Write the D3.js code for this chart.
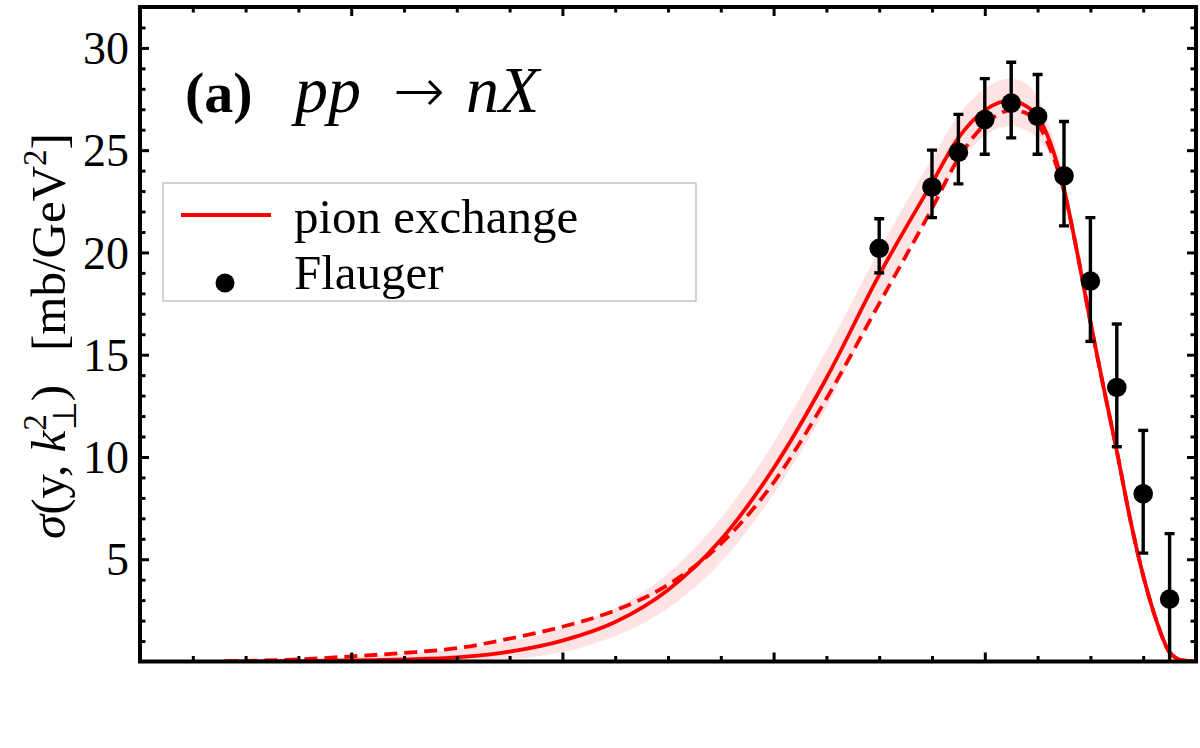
<!DOCTYPE html>
<html>
<head>
<meta charset="utf-8">
<script src="https://cdn.jsdelivr.net/npm/d3@7"></script>
<style>
  html, body { margin: 0; padding: 0; background: #fff; }
  svg { display: block; }
  text { font-family: "Liberation Serif", "Times New Roman", serif; }
</style>
</head>
<body>
<svg id="chart" width="1200" height="748"></svg>
<script>
// ---------------- data ----------------
const curveX = [0.08,0.10,0.15,0.20,0.25,0.30,0.35,0.40,0.45,0.50,0.55,0.60,0.65,0.70,0.75,0.775,0.80,0.825,0.8375,0.85,0.8625,0.875,0.8875,0.90,0.9125,0.925,0.9375,0.95,0.9625,0.975,0.9875,1.0];
const pionSolid = [0,0.005,0.02,0.05,0.1,0.2,0.48,1.02,1.93,3.5,5.95,9.45,13.85,18.9,23.4,25.6,26.95,27.45,27.2,26.65,25.3,23.1,20.0,16.6,13.4,10.3,7.0,4.2,2.0,0.45,0.05,0];
const pionDashed = [0,0.03,0.1,0.25,0.42,0.65,1.12,1.7,2.5,3.75,5.75,8.75,12.85,17.5,22.15,24.6,26.25,26.95,26.85,26.3,25.0,23.0,20.0,16.6,13.4,10.3,7.0,4.2,2.0,0.45,0.05,0];
const bandUpper = [0.02,0.05,0.12,0.22,0.38,0.6,0.98,1.6,2.6,4.3,7.0,10.7,15.2,20.1,24.6,26.7,28.0,28.5,28.3,27.6,26.0,23.6,20.3,16.8,13.55,10.4,7.1,4.3,2.05,0.5,0.08,0];
const bandLower = [0,0,0,0,0,0.02,0.12,0.45,1.25,2.6,4.85,8.2,12.4,17.6,22.1,24.3,25.7,26.2,26.0,25.6,24.6,22.6,19.7,16.4,13.25,10.2,6.9,4.1,1.95,0.4,0.03,0];

const flaugerX = [0.70,0.75,0.775,0.80,0.825,0.85,0.875,0.90,0.925,0.95,0.975];
const flaugerY = [20.2,23.2,24.9,26.5,27.3,26.65,23.75,18.6,13.4,8.2,3.05];
const flaugerHi = [21.65,25.0,26.75,28.5,29.3,28.7,26.4,21.7,16.5,11.3,6.25];
const flaugerLo = [19.0,21.7,23.35,24.8,25.6,24.8,21.3,15.65,10.5,5.3,0];

const yTickValues = [5,10,15,20,25,30];
const legendLabels = ["pion exchange","Flauger"];

// ---------------- layout ----------------
const svg = d3.select("#chart");
const L = 140, R = 1196, T = 7, B = 661.5;
const x = d3.scaleLinear().domain([0,1]).range([L,R]);
const y = d3.scaleLinear().domain([0,32]).range([B,T]);
const red = "#ff0000";

svg.append("defs").append("clipPath").attr("id","clip")
  .append("rect").attr("x",L).attr("y",T).attr("width",R-L).attr("height",B-T);

const plot = svg.append("g").attr("clip-path","url(#clip)");

// band
const bandData = curveX.map((v,i)=>({x:v,lo:bandLower[i],hi:bandUpper[i]}));
plot.append("path").datum(bandData)
  .attr("fill","#fde3e3")
  .attr("d", d3.area().curve(d3.curveMonotoneX).x(d=>x(d.x)).y0(d=>y(d.lo)).y1(d=>y(d.hi)));

const line = d3.line().curve(d3.curveMonotoneX).x(d=>x(d[0])).y(d=>y(d[1]));
plot.append("path").datum(curveX.map((v,i)=>[v,pionDashed[i]]))
  .attr("fill","none").attr("stroke",red).attr("stroke-width",3.8)
  .attr("stroke-dasharray","13,7").attr("d",line);
plot.append("path").datum(curveX.map((v,i)=>[v,pionSolid[i]]))
  .attr("fill","none").attr("stroke",red).attr("stroke-width",3.8).attr("d",line);

// error bars + points
const pts = flaugerX.map((v,i)=>({x:v,y:flaugerY[i],hi:flaugerHi[i],lo:flaugerLo[i]}));
const eb = plot.append("g").attr("stroke","#000").attr("stroke-width",3.4);
eb.selectAll("line.v").data(pts).join("line").attr("class","v")
  .attr("x1",d=>x(d.x)).attr("x2",d=>x(d.x)).attr("y1",d=>y(d.hi)).attr("y2",d=>y(d.lo));
eb.selectAll("line.t").data(pts).join("line").attr("class","t")
  .attr("x1",d=>x(d.x)-5).attr("x2",d=>x(d.x)+5).attr("y1",d=>y(d.hi)).attr("y2",d=>y(d.hi));
eb.selectAll("line.b").data(pts.filter(d=>d.lo>0)).join("line").attr("class","b")
  .attr("x1",d=>x(d.x)-5).attr("x2",d=>x(d.x)+5).attr("y1",d=>y(d.lo)).attr("y2",d=>y(d.lo));
plot.append("g").selectAll("circle").data(pts).join("circle")
  .attr("cx",d=>x(d.x)).attr("cy",d=>y(d.y)).attr("r",9.8).attr("fill","#000");

// axes (inward ticks)
function styleAxis(g){
  g.select(".domain").remove();
  g.selectAll(".tick line").attr("stroke","#000").attr("stroke-width",3);
}
const xMajor = [0.2,0.4,0.6,0.8];
const xMinor = d3.range(0.05,1.0,0.05).filter(v=>!xMajor.some(m=>Math.abs(m-v)<1e-6));
const yMinor = d3.range(1,32,1).filter(v=>v%5!==0);

[[d3.axisBottom, B],[d3.axisTop, T]].forEach(([ax,pos])=>{
  svg.append("g").attr("transform",`translate(0,${pos})`)
    .call(ax(x).tickValues(xMajor).tickSize(-9).tickFormat("")).call(styleAxis);
  svg.append("g").attr("transform",`translate(0,${pos})`)
    .call(ax(x).tickValues(xMinor).tickSize(-5.5).tickFormat("")).call(styleAxis);
});
const yl = svg.append("g").attr("transform",`translate(${L},0)`)
  .call(d3.axisLeft(y).tickValues(yTickValues).tickSize(-9).tickPadding(20));
styleAxis(yl);
yl.selectAll(".tick text").attr("font-size",46).attr("fill","#000")
  .attr("font-family","Liberation Serif").attr("dy","0.34em").attr("x",-11);
svg.append("g").attr("transform",`translate(${L},0)`)
  .call(d3.axisLeft(y).tickValues(yMinor).tickSize(-5.5).tickFormat("")).call(styleAxis);
svg.append("g").attr("transform",`translate(${R},0)`)
  .call(d3.axisRight(y).tickValues(yTickValues).tickSize(-9).tickFormat("")).call(styleAxis);
svg.append("g").attr("transform",`translate(${R},0)`)
  .call(d3.axisRight(y).tickValues(yMinor).tickSize(-5.5).tickFormat("")).call(styleAxis);

// frame
svg.append("rect").attr("x",L).attr("y",T).attr("width",R-L).attr("height",B-T)
  .attr("fill","none").attr("stroke","#000").attr("stroke-width",4);

// y-axis title
const yt = svg.append("text").attr("transform","translate(65,336) rotate(-90)")
  .attr("text-anchor","middle").attr("font-size",49).attr("fill","#000");
yt.append("tspan").attr("font-style","italic").text("σ");
yt.append("tspan").text("(y, ");
yt.append("tspan").attr("font-style","italic").text("k");
yt.append("tspan").attr("font-size",33).attr("dy",-19).text("2");
yt.append("tspan").attr("font-size",33).attr("dx",-16).attr("dy",30).text("⊥");
yt.append("tspan").attr("dy",-11).text(")");
yt.append("tspan").attr("dx",34).text("[mb/GeV");
yt.append("tspan").attr("font-size",33).attr("dy",-19).text("2");
yt.append("tspan").attr("dy",19).text("]");

// panel title
const tt = svg.append("text").attr("y",112).attr("fill","#000");
tt.append("tspan").attr("x",185).attr("font-weight","bold").attr("font-size",58).text("(a)");
tt.append("tspan").attr("x",295).attr("font-style","italic").attr("font-size",66).text("pp");
tt.append("tspan").attr("x",393).attr("font-family","DejaVu Sans").attr("font-weight","200").attr("font-size",62).text("→");
tt.append("tspan").attr("x",466).attr("font-style","italic").attr("font-size",66).text("nX");

// legend
const lg = svg.append("g");
lg.append("rect").attr("x",163).attr("y",183).attr("width",533).attr("height",118)
  .attr("fill","#fff").attr("stroke","#c4c4c4").attr("stroke-width",1.5);
lg.append("line").attr("x1",181).attr("x2",271).attr("y1",215).attr("y2",215)
  .attr("stroke",red).attr("stroke-width",4);
lg.append("circle").attr("cx",225).attr("cy",283).attr("r",9.5).attr("fill","#000");
lg.selectAll("text").data(legendLabels).join("text")
  .attr("x",294).attr("y",(d,i)=>233+i*56).attr("font-size",49).attr("fill","#000").text(d=>d);
</script>
</body>
</html>
